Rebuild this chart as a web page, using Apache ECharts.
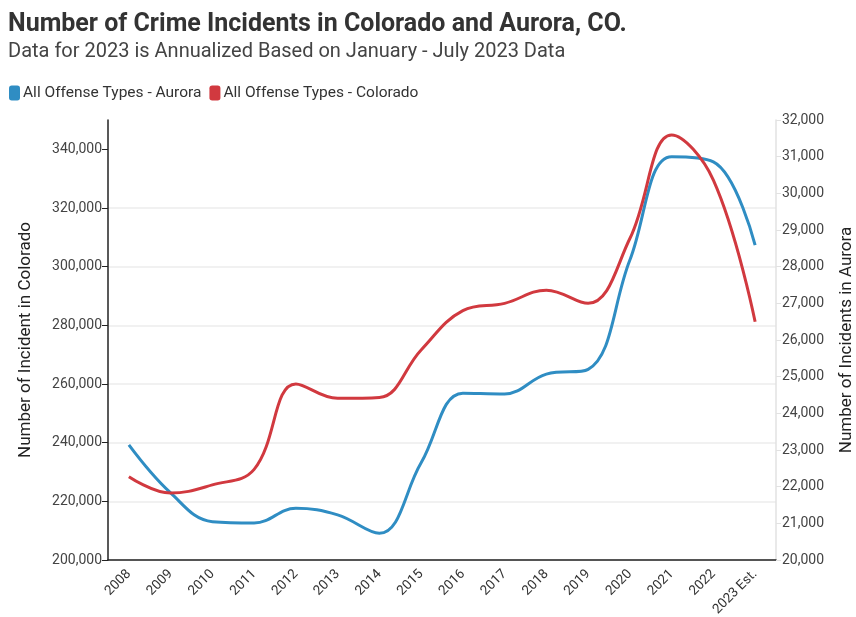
<!DOCTYPE html>
<html>
<head>
<meta charset="utf-8">
<script src="https://cdn.jsdelivr.net/npm/echarts@6/dist/echarts.min.js"></script>
<style>
  html, body { margin: 0; padding: 0; background: #fff; }
  #chart { width: 856px; height: 617px; }
</style>
</head>
<body>
<div id="chart"></div>
<script>
  // data
  const years = ['2008', '2009', '2010', '2011', '2012', '2013', '2014', '2015',
    '2016', '2017', '2018', '2019', '2020', '2021', '2022', '2023 Est.'];
  const aurora = [23140, 21830, 21045, 21010, 21410, 21230, 20730, 22650,
    24550, 24530, 25070, 25200, 28180, 31000, 30860, 28590];
  const colorado = [228400, 222800, 225600, 230900, 260000, 255100, 255400, 271600,
    285000, 287500, 292000, 287500, 309600, 344900, 329500, 281200];
  const leftTicks = [200000, 220000, 240000, 260000, 280000, 300000, 320000, 340000];

  const fmt = v => Number(v).toLocaleString('en-US');

  let myChart = echarts.init(document.getElementById('chart'));
  myChart.setOption({
    animation: false,
    textStyle: { fontFamily: 'Roboto' },
    title: {
      text: 'Number of Crime Incidents in Colorado and Aurora, CO.',
      subtext: 'Data for 2023 is Annualized Based on January - July 2023 Data',
      left: 3,
      top: 7,
      itemGap: 5,
      textStyle: { fontSize: 25, fontWeight: 'bold', color: '#333' },
      subtextStyle: { fontSize: 20, color: '#444' }
    },
    legend: {
      left: 4,
      top: 80,
      itemWidth: 11,
      itemHeight: 15,
      itemGap: 8,
      icon: 'roundRect',
      textStyle: { fontSize: 15.5, color: '#333', padding: [0, 0, 0, -2] },
      data: ['All Offense Types - Aurora', 'All Offense Types - Colorado']
    },
    grid: { left: 108, right: 80, top: 120, bottom: 57, outerBoundsMode: 'none' },
    xAxis: {
      type: 'category',
      data: years,
      axisLine: { lineStyle: { color: '#222', width: 1.5 } },
      axisTick: { alignWithLabel: true, length: 6, lineStyle: { color: '#222' } },
      axisLabel: { rotate: 45, fontSize: 13.5, color: '#333', margin: 12 }
    },
    yAxis: [{
      type: 'value',
      min: 200000,
      max: 350000,
      interval: 20000,
      name: 'Number of Incident in Colorado',
      nameLocation: 'middle',
      nameGap: 74,
      nameTextStyle: { fontSize: 17, color: '#222' },
      axisLine: { show: true, lineStyle: { color: '#222', width: 1.5 } },
      axisTick: { show: true, length: 6, customValues: leftTicks, lineStyle: { color: '#222' } },
      axisLabel: { customValues: leftTicks, fontSize: 14, color: '#444', margin: 6, formatter: fmt },
      splitLine: { show: true, showMaxLine: false, lineStyle: { color: '#ececec', width: 1.5 } }
    }, {
      type: 'value',
      min: 20000,
      max: 32000,
      interval: 1000,
      position: 'right',
      name: 'Number of Incidents in Aurora',
      nameLocation: 'middle',
      nameGap: 62,
      nameTextStyle: { fontSize: 17, color: '#222' },
      axisLine: { show: true, lineStyle: { color: '#e2e2e2', width: 1.5 } },
      axisTick: { show: true, length: 5, lineStyle: { color: '#e2e2e2' } },
      axisLabel: { fontSize: 14, color: '#444', margin: 6, formatter: fmt },
      splitLine: { show: false }
    }],
    series: [{
      name: 'All Offense Types - Aurora',
      type: 'line',
      yAxisIndex: 1,
      smooth: 0.4,
      showSymbol: false,
      symbol: 'none',
      itemStyle: { color: '#2f8dc3' },
      lineStyle: { width: 3, color: '#2f8dc3' },
      data: aurora
    }, {
      name: 'All Offense Types - Colorado',
      type: 'line',
      yAxisIndex: 0,
      smooth: 0.4,
      showSymbol: false,
      symbol: 'none',
      itemStyle: { color: '#d1393f' },
      lineStyle: { width: 3, color: '#d1393f' },
      data: colorado
    }]
  });
</script>
</body>
</html>
